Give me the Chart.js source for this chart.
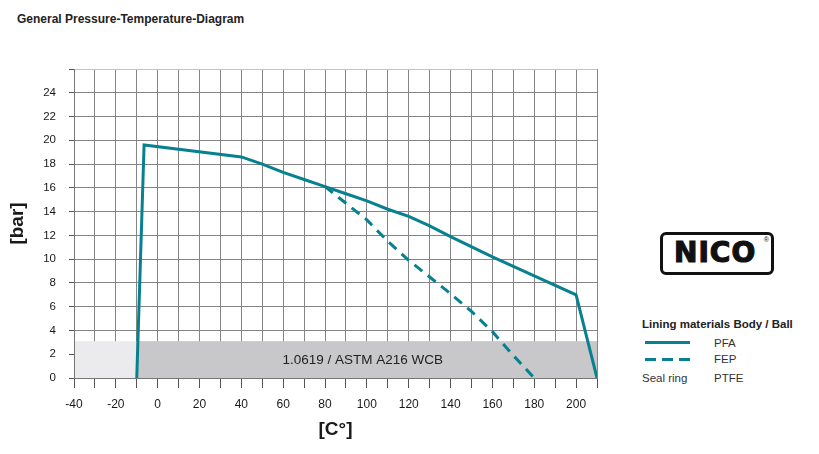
<!DOCTYPE html>
<html>
<head>
<meta charset="utf-8">
<script src="https://cdn.jsdelivr.net/npm/chart.js@4/dist/chart.umd.min.js"></script>
<style>
  html, body { margin: 0; padding: 0; background: #fff; }
  #page { position: relative; width: 819px; height: 454px; overflow: hidden; font-family: "Liberation Sans", Arial, sans-serif; color: #222; }
  #title { position: absolute; left: 17px; top: 12px; font-size: 12px; font-weight: bold; color: #222; }
  #chartBox { position: absolute; left: 0; top: 0; width: 610px; height: 454px; }
  #logo { position: absolute; left: 660px; top: 232px; width: 108px; height: 37px; border: 3px solid #111; border-radius: 6px; }
  #logo span.name { position: absolute; left: 11px; top: 1px; font-family: "DejaVu Sans", sans-serif; font-weight: bold; font-size: 28px; letter-spacing: 1px; color: #111; -webkit-text-stroke: 1.2px #111; }
  #logo span.reg { position: absolute; right: 2px; top: 1px; font-size: 7px; color: #111; }
  .lg { position: absolute; font-size: 11.5px; color: #333; }
  .lgHead { position: absolute; left: 642px; top: 318px; font-size: 11.5px; font-weight: bold; color: #222; }
  .swatch { position: absolute; height: 3px; background: #07808f; }
</style>
</head>
<body>
<div id="page">
  <div id="title">General Pressure-Temperature-Diagram</div>
  <div id="chartBox"><canvas id="ptChart"></canvas></div>
  <div id="logo"><span class="name">NICO</span><span class="reg">®</span></div>
  <div class="lgHead">Lining materials Body / Ball</div>
  <div class="swatch" style="left:645px;top:341px;width:45px;"></div>
  <div class="lg" style="left:714px;top:337px;">PFA</div>
  <div class="swatch" style="left:645px;top:358px;width:11px;"></div>
  <div class="swatch" style="left:662px;top:358px;width:11px;"></div>
  <div class="swatch" style="left:679px;top:358px;width:11px;"></div>
  <div class="lg" style="left:714px;top:353px;">FEP</div>
  <div class="lg" style="left:642px;top:372px;">Seal ring</div>
  <div class="lg" style="left:714px;top:372px;">PTFE</div>
</div>
<script>
// PFA curve (temperature °C / pressure bar)
const pfaTemp = [-10, -6.5, 40, 50, 60, 70, 80, 90, 100, 110, 120, 130, 140, 160, 180, 200, 210];
const pfaBar  = [0, 19.6, 18.6, 18.0, 17.3, 16.7, 16.1, 15.5, 14.9, 14.2, 13.6, 12.8, 11.9, 10.2, 8.6, 7.0, 0];

// FEP curve
const fepTemp = [80, 90, 100, 110, 120, 130, 140, 150, 160, 170, 180];
const fepBar  = [16.1, 14.7, 13.3, 11.5, 9.9, 8.5, 7.1, 5.6, 3.9, 1.9, 0];

// axis ranges
const xRange = [-40, 210];
const yRange = [0, 26];

// body material band
const bandTop = 3.1;
const bandSplit = -10;
const bandLabel = '1.0619 / ASTM A216 WCB';
const bandLabelX = 98;

const teal = '#07808f';

function toPoints(xs, ys) {
    return xs.map((x, i) => ({ x: x, y: ys[i] }));
}

const bandPlugin = {
    id: 'band',
    beforeDatasetsDraw(chart) {
        const ctx = chart.ctx;
        const xs = chart.scales.x;
        const ys = chart.scales.y;
        const x0 = xs.getPixelForValue(xRange[0]);
        const x1 = xs.getPixelForValue(bandSplit);
        const x2 = xs.getPixelForValue(xRange[1]);
        const y0 = ys.getPixelForValue(0);
        const y1 = ys.getPixelForValue(bandTop);
        ctx.save();
        ctx.fillStyle = '#ebebed';
        ctx.fillRect(x0 + 1, y1, x1 - x0 - 1, y0 - y1);
        ctx.fillStyle = '#c8c8ca';
        ctx.fillRect(x1, y1, x2 - x1, y0 - y1);
        ctx.fillStyle = '#222';
        ctx.font = '13.5px "Liberation Sans", Arial, sans-serif';
        ctx.textAlign = 'center';
        ctx.textBaseline = 'middle';
        ctx.fillText(bandLabel, xs.getPixelForValue(bandLabelX), ys.getPixelForValue(bandTop / 2) + 1);
        ctx.restore();
    }
};

const ctx = document.getElementById('ptChart').getContext('2d');
const chart = new Chart(ctx, {
    type: 'line',
    data: {
        datasets: [{
            label: 'PFA',
            data: toPoints(pfaTemp, pfaBar),
            borderColor: teal,
            borderWidth: 3,
            pointRadius: 0,
            tension: 0
        }, {
            label: 'FEP',
            data: toPoints(fepTemp, fepBar),
            borderColor: teal,
            borderWidth: 3,
            borderDash: [10, 7],
            pointRadius: 0,
            tension: 0
        }]
    },
    options: {
        responsive: true,
        maintainAspectRatio: false,
        animation: false,
        layout: { padding: { left: 0, top: 69, right: 13, bottom: 0 } },
        plugins: {
            legend: { display: false },
            tooltip: { enabled: false }
        },
        scales: {
            x: {
                type: 'linear',
                min: xRange[0],
                max: xRange[1],
                afterFit: (s) => { s.height = 76; },
                grid: {
                    color: '#858585',
                    tickColor: '#555',
                    tickLength: 10,
                    lineWidth: 1
                },
                border: { color: '#777' },
                ticks: {
                    stepSize: 10,
                    padding: 9,
                    maxRotation: 0,
                    autoSkip: false,
                    color: '#1a1a1a',
                    font: { family: '"Liberation Sans", Arial, sans-serif', size: 12 },
                    callback: (v) => (v % 20 === 0 && v <= 200) ? v : ''
                },
                title: {
                    display: true,
                    text: '[C°]',
                    color: '#1a1a1a',
                    font: { family: '"Liberation Sans", Arial, sans-serif', size: 19, weight: 'bold' },
                    padding: { top: 0, bottom: 13 }
                }
            },
            y: {
                min: yRange[0],
                max: yRange[1],
                afterFit: (s) => { s.width = 74; },
                grid: {
                    color: (c) => c.tick && c.tick.value === yRange[1] ? '#c4c4c4' : '#858585',
                    tickColor: '#555',
                    tickLength: 5,
                    lineWidth: 1
                },
                border: { color: '#777' },
                ticks: {
                    stepSize: 2,
                    padding: 13,
                    color: '#1a1a1a',
                    font: { family: '"Liberation Sans", Arial, sans-serif', size: 11.5 },
                    callback: (v) => v === yRange[1] ? '' : v
                },
                title: {
                    display: true,
                    text: '[bar]',
                    color: '#1a1a1a',
                    font: { family: '"Liberation Sans", Arial, sans-serif', size: 19, weight: 'bold' },
                    padding: { top: 6, bottom: 0 }
                }
            }
        }
    },
    plugins: [bandPlugin]
});
</script>
</body>
</html>
